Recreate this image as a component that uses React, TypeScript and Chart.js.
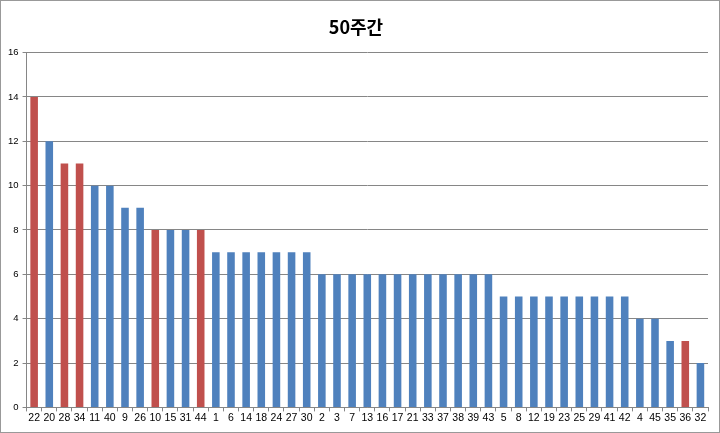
import React, { useEffect, useRef } from "react";
import { Chart, registerables } from "chart.js";

Chart.register(...registerables);

const categories = ["22","20","28","34","11","40","9","26","10","15","31","44","1","6","14","18","24","27","30","2","3","7","13","16","17","21","33","37","38","39","43","5","8","12","19","23","25","29","41","42","4","45","35","36","32"];
const values = [14,12,11,11,10,10,9,9,8,8,8,8,7,7,7,7,7,7,7,6,6,6,6,6,6,6,6,6,6,6,6,5,5,5,5,5,5,5,5,5,4,4,3,3,2];
const redCategories = ["22","28","34","10","44","36"];
const yTicks = [0,2,4,6,8,10,12,14,16];
const titleText = "50주간";

const BLUE = "#4F81BD";
const RED = "#C0504D";

export default function App() {
  const ref = useRef<HTMLCanvasElement | null>(null);
  useEffect(() => {
    document.body.style.margin = "0";
    const ctx = ref.current!;
    const chart = new Chart(ctx, {
      type: "bar",
      data: {
        labels: categories,
        datasets: [
          {
            data: values,
            backgroundColor: categories.map((c) => (redCategories.includes(c) ? RED : BLUE)),
            borderWidth: 0,
            categoryPercentage: 1,
            barPercentage: 0.5,
          },
        ],
      },
      options: {
        animation: false,
        responsive: false,
        maintainAspectRatio: false,
        layout: { padding: { left: 3, right: 11, top: 8, bottom: 8 } },
        plugins: {
          legend: { display: false },
          tooltip: { enabled: false },
          title: {
            display: true,
            text: titleText,
            color: "#000",
            font: { family: "'Noto Sans CJK KR', 'Noto Sans', sans-serif", size: 18, weight: "bold" },
            padding: { top: 7, bottom: 15 },
          },
        },
        scales: {
          x: {
            grid: {
              display: true,
              offset: true,
              drawOnChartArea: false,
              drawTicks: true,
              tickLength: 4,
              color: "#868686",
            },
            border: { display: true, color: "#868686" },
            ticks: {
              color: "#000",
              autoSkip: false,
              maxRotation: 0,
              font: { family: "'Liberation Sans', sans-serif", size: 10.5 },
              padding: 0,
            },
          },
          y: {
            min: 0,
            max: 16,
            afterBuildTicks: (scale: any) => {
              scale.ticks = yTicks.map((v) => ({ value: v }));
            },
            grid: {
              color: "#868686",
              drawTicks: true,
              tickLength: 4,
            },
            border: { display: true, color: "#868686" },
            ticks: {
              color: "#000",
              font: { family: "'Liberation Sans', sans-serif", size: 9.5 },
              padding: 4,
            },
          },
        },
      },
    });
    return () => chart.destroy();
  }, []);
  return (
    <div style={{ width: 720, height: 433, boxSizing: "border-box", border: "1px solid #999", background: "#fff", overflow: "hidden" }}>
      <canvas ref={ref} width={718} height={431} style={{ display: "block" }} />
    </div>
  );
}
